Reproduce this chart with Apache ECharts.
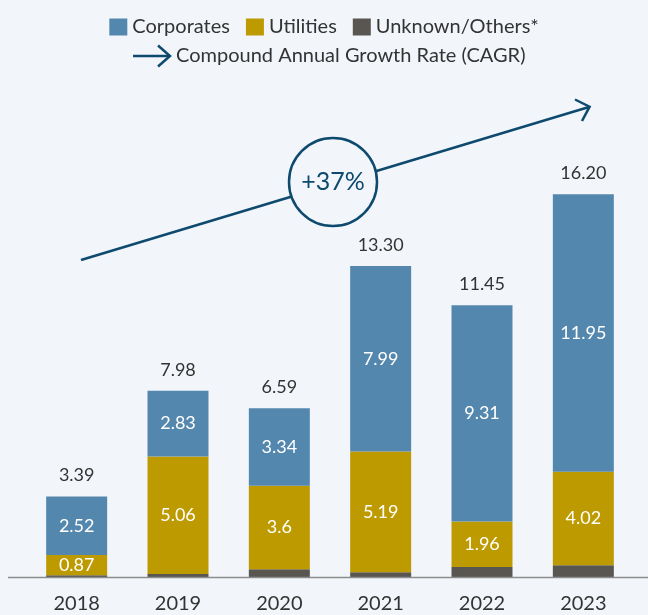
<!DOCTYPE html>
<html>
<head>
<meta charset="utf-8">
<script src="https://cdn.jsdelivr.net/npm/echarts@6/dist/echarts.min.js"></script>
<style>
  html, body { margin: 0; padding: 0; background: #f2f6fb; }
  #chart { width: 648px; height: 615px; }
</style>
</head>
<body>
<div id="chart"></div>
<script>
var years = ['2018', '2019', '2020', '2021', '2022', '2023'];
var corporates = [2.52, 2.83, 3.34, 7.99, 9.31, 11.95];
var utilities = [0.87, 5.06, 3.6, 5.19, 1.96, 4.02];
// not labelled in the source, estimated from the dark stubs
var others = [0.1, 0.15, 0.35, 0.23, 0.45, 0.53];
var totals = [3.39, 7.98, 6.59, 13.30, 11.45, 16.20];
var cagrText = '+37%';
var cagrLegend = 'Compound Annual Growth Rate (CAGR)';

window.onload = function () {
  var chart = echarts.init(document.getElementById('chart'));

  var navy = '#0d4a6e';
  var bg = '#f2f6fb';
  var font = 'Lato';
  var baseY = 577.5;

  var option = {
    backgroundColor: bg,
    animation: false,
    textStyle: { fontFamily: font },
    grid: {
      left: 26,
      right: 14,
      top: 113,
      bottom: 615 - baseY
    },
    legend: {
      data: ['Corporates', 'Utilities', 'Unknown/Others*'],
      top: 12,
      left: 'center',
      icon: 'rect',
      itemWidth: 18,
      itemHeight: 17,
      itemGap: 16,
      selectedMode: false,
      textStyle: { fontSize: 20, color: '#333', fontFamily: font, lineHeight: 20 }
    },
    xAxis: {
      type: 'category',
      data: years,
      axisLine: { show: false },
      axisTick: { show: false },
      axisLabel: { fontSize: 20, color: '#333', margin: 16, fontFamily: font }
    },
    yAxis: {
      type: 'value',
      min: 0,
      max: 20,
      show: false,
      splitLine: { show: false }
    },
    series: [
      {
        name: 'Unknown/Others*',
        type: 'bar',
        stack: 'all',
        barWidth: 61,
        color: '#595651',
        data: others
      },
      {
        name: 'Utilities',
        type: 'bar',
        stack: 'all',
        color: '#bd9a00',
        label: { show: true, position: 'inside', color: '#fff', fontSize: 18, fontFamily: font },
        data: utilities
      },
      {
        name: 'Corporates',
        type: 'bar',
        stack: 'all',
        color: '#5387ae',
        label: { show: true, position: 'inside', color: '#fff', fontSize: 18, fontFamily: font },
        data: corporates
      },
      {
        // zero height, only carries the total on top of the stack
        name: 'Total',
        type: 'bar',
        stack: 'all',
        color: 'transparent',
        label: {
          show: true,
          position: 'top',
          distance: 12,
          color: '#333',
          fontSize: 18,
          fontFamily: font,
          formatter: function (p) { return totals[p.dataIndex].toFixed(2); }
        },
        data: years.map(function () { return 0; })
      }
    ],
    graphic: [
      // baseline
      {
        type: 'line',
        z: 10,
        shape: { x1: 8, y1: baseY, x2: 648, y2: baseY },
        style: { stroke: '#8c8c8c', lineWidth: 1.5 }
      },
      // second legend row
      {
        type: 'polyline',
        shape: { points: [[133, 56], [170, 56]] },
        style: { stroke: navy, lineWidth: 2.5, fill: null }
      },
      {
        type: 'polyline',
        shape: { points: [[158, 45.5], [170, 56], [158, 66.5]] },
        style: { stroke: navy, lineWidth: 2.5, fill: null }
      },
      {
        type: 'text',
        x: 176,
        y: 56,
        style: { text: cagrLegend, fontSize: 20, fontFamily: font, fill: '#333', verticalAlign: 'middle' }
      },
      // CAGR arrow
      {
        type: 'polyline',
        z: 20,
        shape: { points: [[81, 260], [589, 107]] },
        style: { stroke: navy, lineWidth: 2.5, fill: null }
      },
      {
        type: 'polyline',
        z: 20,
        shape: { points: [[575, 99.5], [589.6, 106.7], [582, 121]] },
        style: { stroke: navy, lineWidth: 2.5, fill: null }
      },
      {
        type: 'circle',
        z: 21,
        shape: { cx: 333, cy: 182, r: 44 },
        style: { fill: bg, stroke: navy, lineWidth: 2.5 }
      },
      {
        type: 'text',
        z: 22,
        x: 333,
        y: 182,
        style: { text: cagrText, fontSize: 25, fontFamily: font, fill: navy, align: 'center', verticalAlign: 'middle' }
      }
    ]
  };

  chart.setOption(option);
};
</script>
</body>
</html>
